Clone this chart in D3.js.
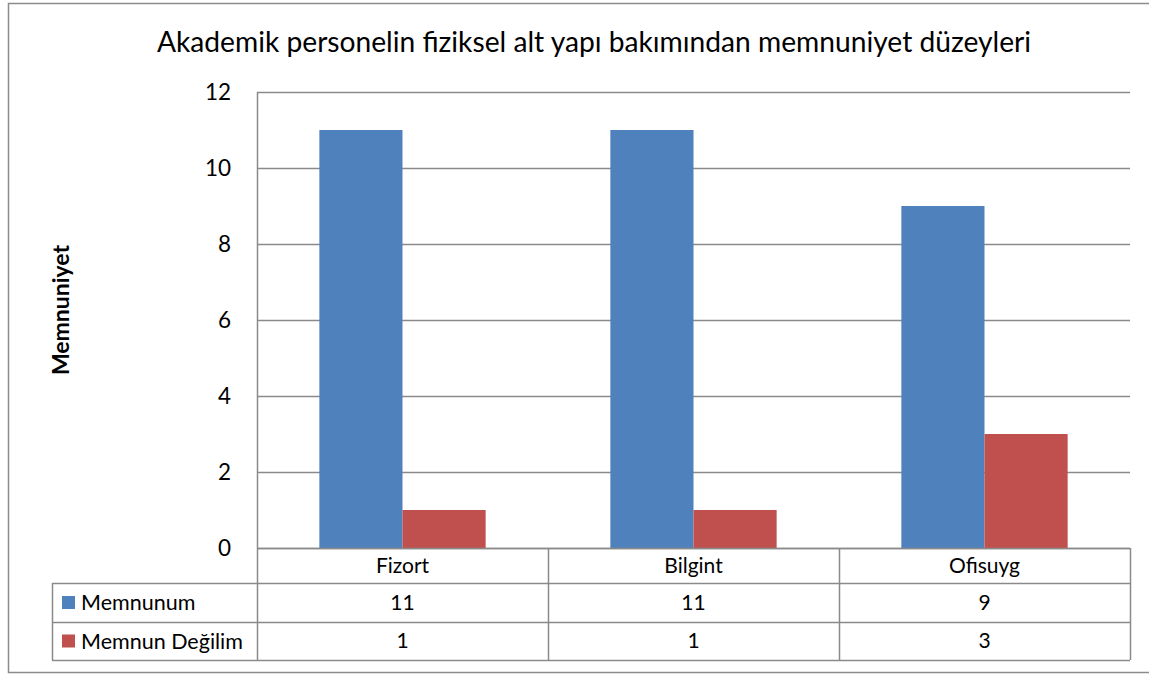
<!DOCTYPE html>
<html>
<head>
<meta charset="utf-8">
<script src="https://cdn.jsdelivr.net/npm/d3@7"></script>
<style>
  body { margin: 0; background: #fff; }
  text { font-family: Lato, "Open Sans", sans-serif; fill: #000; }
</style>
</head>
<body>
<svg id="chart" width="1149" height="675"></svg>
<script>
// data
const categories = ['Fizort', 'Bilgint', 'Ofisuyg'];
const seriesNames = ['Memnunum', 'Memnun Değilim'];
const memnunum = [11, 11, 9];
const memnunDegilim = [1, 1, 3];
const yTicks = [0, 2, 4, 6, 8, 10, 12];
const colors = ['#4f81bd', '#c0504d'];

const allSeries = [memnunum, memnunDegilim];

const svg = d3.select('#chart');

// plot box
const plot = { left: 257, right: 1130, top: 92, bottom: 548 };
const rowH = [35, 39, 38];   // header row, series rows
const tableLeft = 52;

// outer chart border
svg.append('rect')
  .attr('x', 8.5).attr('y', 3.5)
  .attr('width', 1160).attr('height', 669)
  .attr('fill', 'none')
  .attr('stroke', '#8c8c8c')
  .attr('stroke-width', 1.5);

const y = d3.scaleLinear()
  .domain([0, 12])
  .range([plot.bottom, plot.top]);

const x0 = d3.scaleBand()
  .domain(categories)
  .range([plot.left, plot.right]);

// gap width 150% -> group takes bar*2 of (bar*2 + bar*1.5)
const x1 = d3.scaleBand()
  .domain(d3.range(allSeries.length))
  .range([0, x0.bandwidth()])
  .paddingOuter(0.75)
  .paddingInner(0);

// gridlines
svg.append('g')
  .selectAll('line')
  .data(yTicks)
  .join('line')
    .attr('x1', plot.left)
    .attr('x2', plot.right)
    .attr('y1', d => Math.round(y(d)) + 0.5)
    .attr('y2', d => Math.round(y(d)) + 0.5)
    .attr('stroke', '#8a8a8a')
    .attr('stroke-width', 1.5);

// y tick labels
svg.append('g')
  .selectAll('text')
  .data(yTicks)
  .join('text')
    .attr('x', 231)
    .attr('y', d => y(d))
    .attr('dy', '0.35em')
    .attr('text-anchor', 'end')
    .style('font-size', '22.5px')
    .text(d => d);

// bars
const groups = svg.append('g')
  .selectAll('g')
  .data(categories)
  .join('g')
    .attr('transform', d => `translate(${x0(d)},0)`);

groups.selectAll('rect')
  .data((d, i) => allSeries.map((s, j) => ({ s: j, v: s[i] })))
  .join('rect')
    .attr('x', d => x1(d.s))
    .attr('y', d => y(d.v))
    .attr('width', x1.bandwidth())
    .attr('height', d => y(0) - y(d.v))
    .attr('fill', d => colors[d.s]);

// y axis line (runs down through the data table)
const tableBottom = plot.bottom + d3.sum(rowH);
svg.append('line')
  .attr('x1', plot.left + 0.5).attr('x2', plot.left + 0.5)
  .attr('y1', plot.top).attr('y2', tableBottom)
  .attr('stroke', '#8a8a8a').attr('stroke-width', 1.5);

// data table
const table = svg.append('g');
const rowTops = [plot.bottom, plot.bottom + rowH[0], plot.bottom + rowH[0] + rowH[1]];
const lineStyle = sel => sel.attr('stroke', '#8a8a8a').attr('stroke-width', 1.5);

// horizontal lines
table.append('line').call(lineStyle)
  .attr('x1', plot.left).attr('x2', plot.right)
  .attr('y1', plot.bottom + 0.5).attr('y2', plot.bottom + 0.5);
[rowTops[1], rowTops[2], tableBottom].forEach(yy => {
  table.append('line').call(lineStyle)
    .attr('x1', tableLeft).attr('x2', plot.right)
    .attr('y1', yy + 0.5).attr('y2', yy + 0.5);
});
// vertical lines
table.append('line').call(lineStyle)
  .attr('x1', tableLeft + 0.5).attr('x2', tableLeft + 0.5)
  .attr('y1', rowTops[1]).attr('y2', tableBottom);
categories.forEach(c => {
  const xx = x0(c) + x0.bandwidth();
  table.append('line').call(lineStyle)
    .attr('x1', xx + 0.5).attr('x2', xx + 0.5)
    .attr('y1', plot.bottom).attr('y2', tableBottom);
});

// category headers
table.selectAll('text.cat')
  .data(categories)
  .join('text')
    .attr('class', 'cat')
    .attr('x', d => x0(d) + x0.bandwidth() / 2)
    .attr('y', rowTops[0] + rowH[0] / 2)
    .attr('dy', '0.35em')
    .attr('text-anchor', 'middle')
    .style('font-size', '21px')
    .text(d => d);

// series rows
allSeries.forEach((s, j) => {
  const top = rowTops[j + 1];
  const mid = top + rowH[j + 1] / 2;
  table.append('rect')
    .attr('x', 62).attr('y', mid - 6.5)
    .attr('width', 13).attr('height', 13)
    .attr('fill', colors[j]);
  table.append('text')
    .attr('x', 81).attr('y', mid)
    .attr('dy', '0.35em')
    .style('font-size', '21.5px')
    .text(seriesNames[j]);
  table.selectAll('text.v' + j)
    .data(s)
    .join('text')
      .attr('class', 'v' + j)
      .attr('x', (d, i) => x0(categories[i]) + x0.bandwidth() / 2)
      .attr('y', mid)
      .attr('dy', '0.35em')
      .attr('text-anchor', 'middle')
      .style('font-size', '21px')
      .text(d => d);
});

// title
svg.append('text')
  .attr('x', 594)
  .attr('y', 52)
  .attr('text-anchor', 'middle')
  .style('font-size', '28.2px')
  .text('Akademik personelin fiziksel alt yapı bakımından memnuniyet düzeyleri');

// y axis title
svg.append('text')
  .attr('transform', 'translate(69,310) rotate(-90)')
  .attr('text-anchor', 'middle')
  .style('font-size', '23px')
  .style('font-weight', 'bold')
  .text('Memnuniyet');
</script>
</body>
</html>
